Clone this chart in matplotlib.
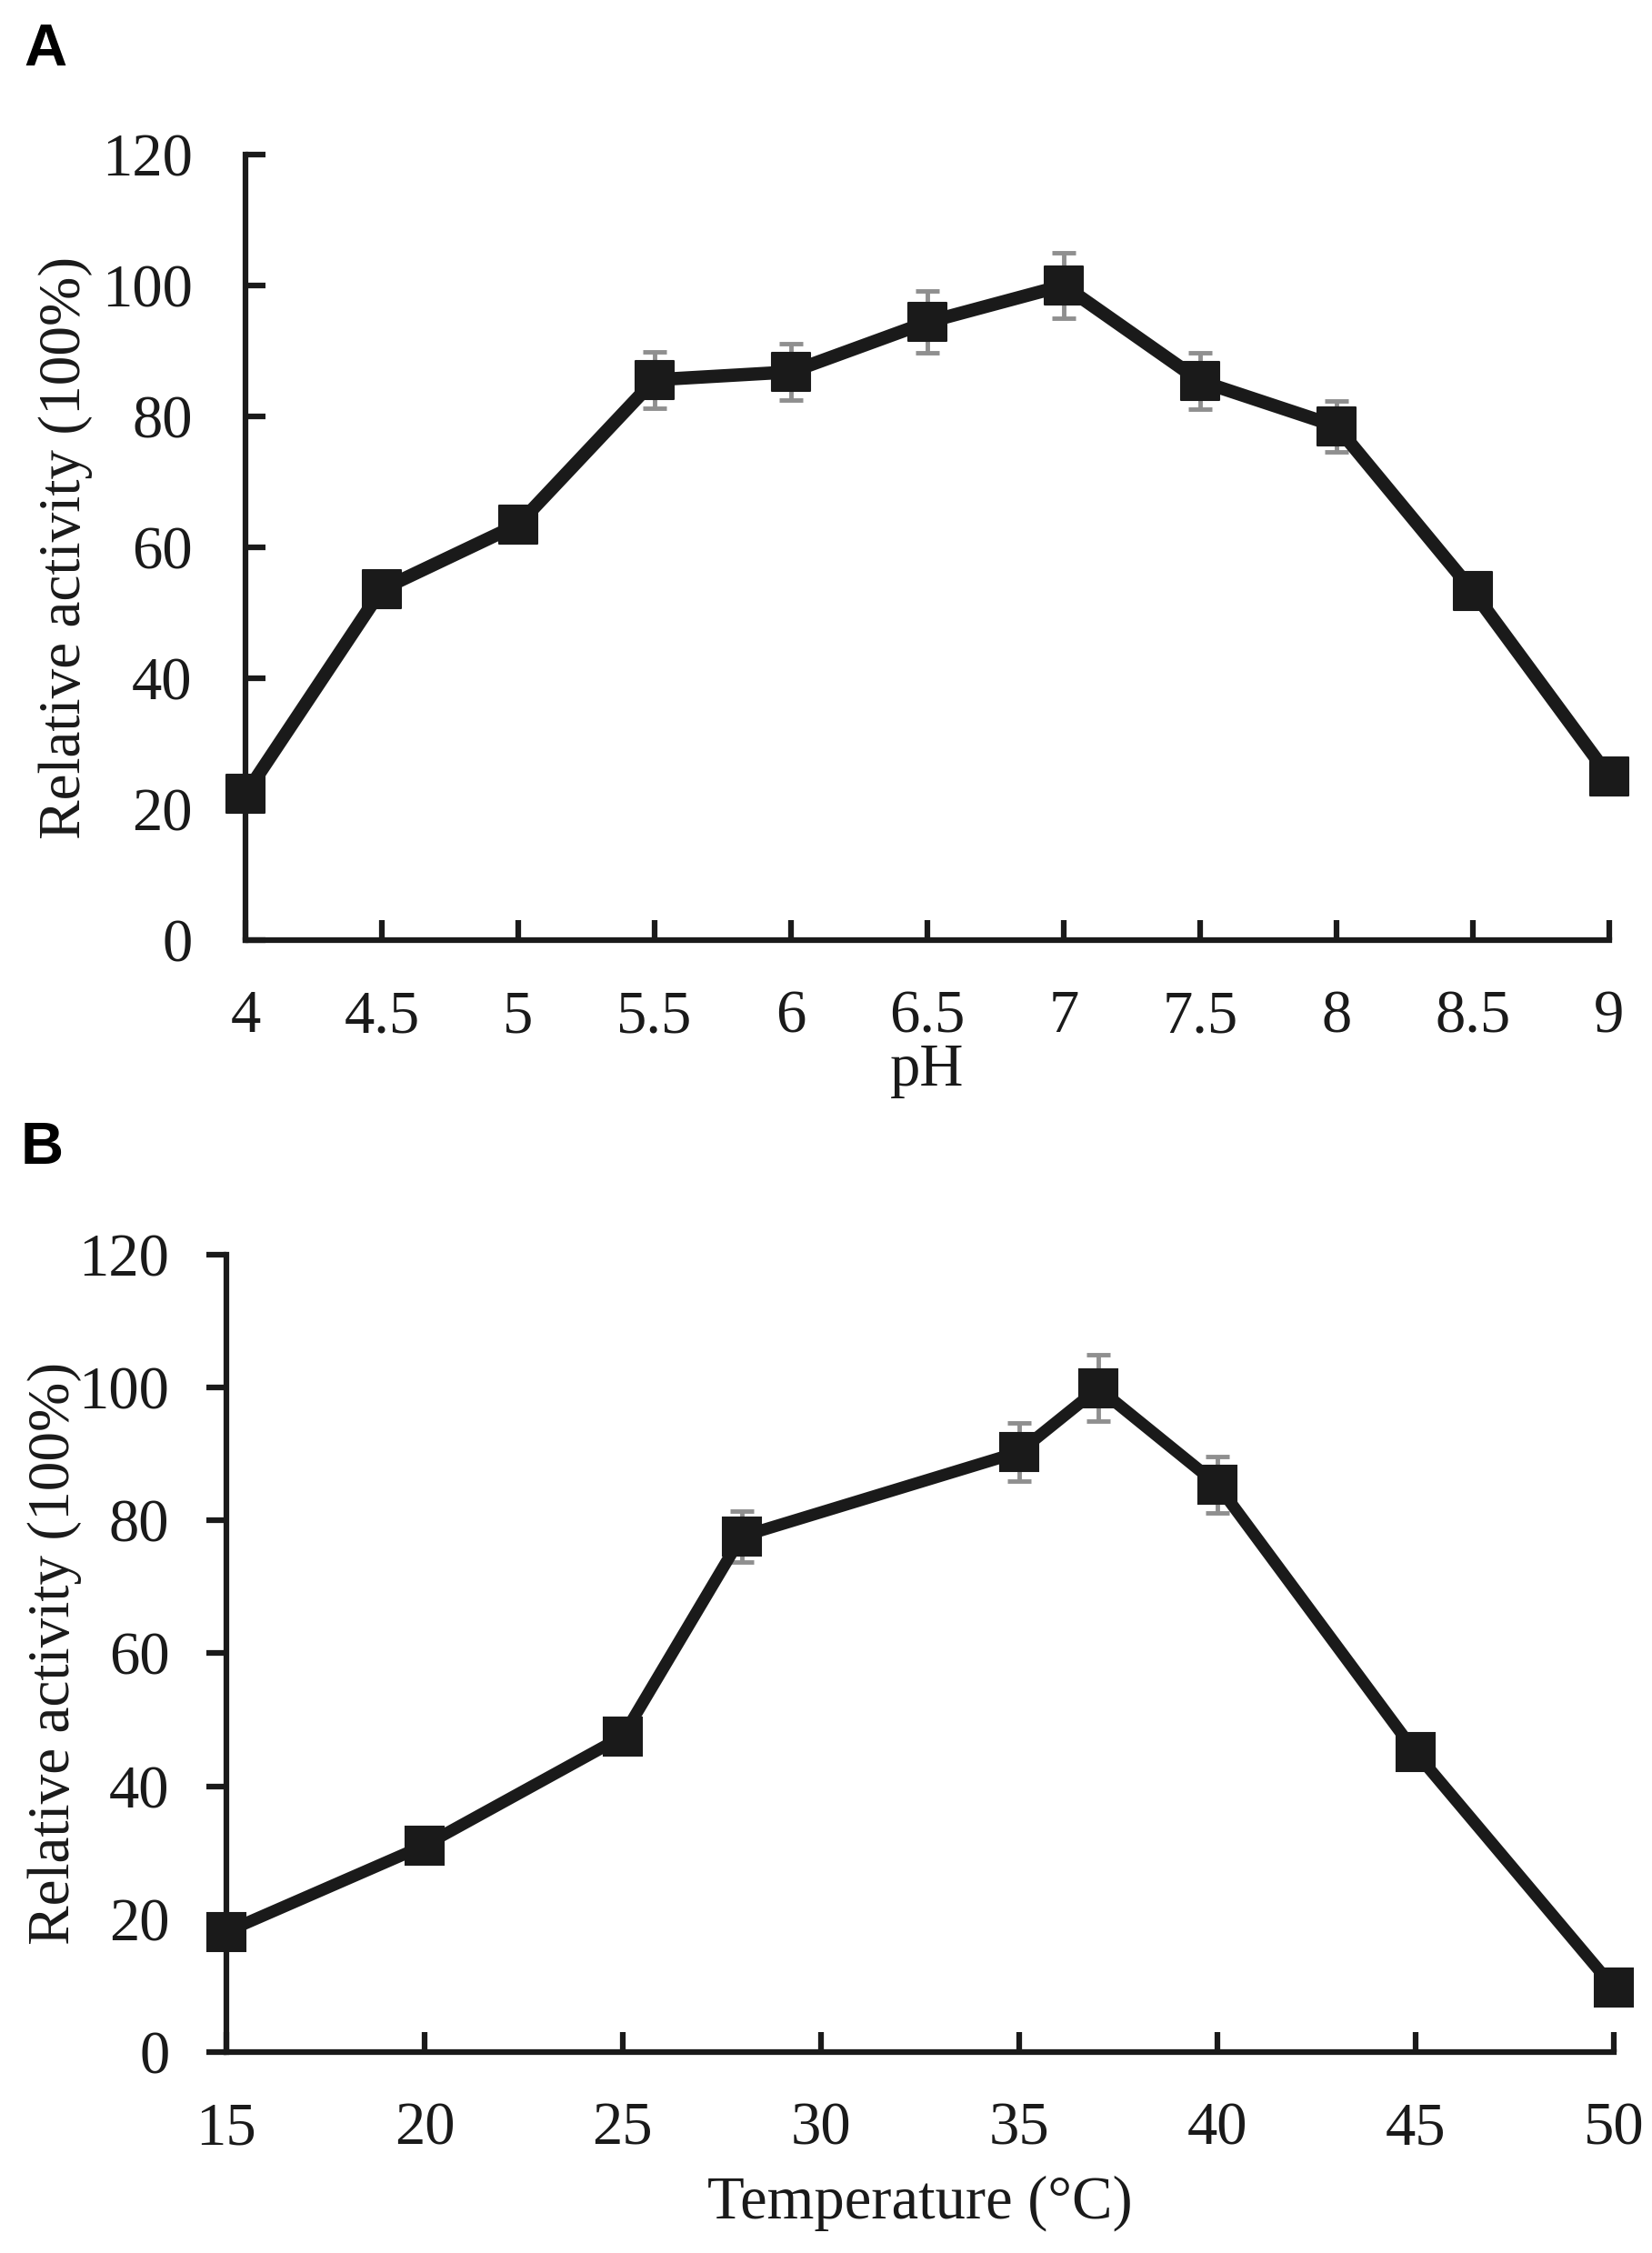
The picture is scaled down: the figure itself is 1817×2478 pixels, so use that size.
import numpy as np
import matplotlib
matplotlib.use('Agg')
import matplotlib.pyplot as plt
from matplotlib.markers import MarkerStyle

# data
ph_values = [4, 4.5, 5, 5.5, 6, 6.5, 7, 7.5, 8, 8.5, 9]
ph_activity = [22.3, 53.6, 63.5, 85.6, 86.8, 94.4, 100.0, 85.4, 78.5, 53.3, 25.0]
ph_err = [1.5, 1.5, 1.8, 4.3, 4.3, 4.7, 5.0, 4.3, 3.9, 1.5, 1.5]

temp_values = [15, 20, 25, 28, 35, 37, 40, 45, 50]
temp_activity = [18.1, 31.1, 47.5, 77.6, 90.3, 99.9, 85.4, 45.1, 9.7]
temp_err = [1.5, 1.5, 1.5, 3.8, 4.4, 5.0, 4.2, 1.5, 1.5]

ph_ticks = [4, 4.5, 5, 5.5, 6, 6.5, 7, 7.5, 8, 8.5, 9]
ph_ticklabels = ['4', '4.5', '5', '5.5', '6', '6.5', '7', '7.5', '8', '8.5', '9']
temp_ticks = [15, 20, 25, 30, 35, 40, 45, 50]
y_ticks = [0, 20, 40, 60, 80, 100, 120]

plt.rcParams['font.family'] = ['Liberation Serif', 'DejaVu Serif']
dark = '#1a1a1a'
grey = '#8f8f8f'

fig = plt.figure(figsize=(18.17, 24.78), dpi=100)
axA = fig.add_axes([0.1486, 0.5827, 0.8255, 0.3487])
axB = fig.add_axes([0.1370, 0.0892, 0.8398, 0.3539])


def draw_panel(ax, x, y, err, lw, joint):
    ax.errorbar(x, y, yerr=err, fmt='none', ecolor=grey, elinewidth=3.5,
                capsize=9.5, capthick=3.5, zorder=2, clip_on=False)
    ax.plot(x, y, color=dark, lw=lw, marker=MarkerStyle('s', joinstyle=joint),
            markersize=30, markerfacecolor=dark, markeredgecolor=dark,
            markeredgewidth=1.5, solid_joinstyle='round', zorder=3, clip_on=False)
    ax.set_ylim(0, 120)
    ax.set_yticks(y_ticks)
    for s in ['top', 'right']:
        ax.spines[s].set_visible(False)
    for s in ['left', 'bottom']:
        ax.spines[s].set_linewidth(4.5)
        ax.spines[s].set_color(dark)
        ax.spines[s].set_capstyle('projecting')


# A: pH
draw_panel(axA, ph_values, ph_activity, ph_err, 10.5, 'round')
axA.set_xlim(4, 9)
axA.set_xticks(ph_ticks)
axA.set_xticklabels(ph_ticklabels)
axA.tick_params(axis='both', direction='in', length=16, width=4.5, color=dark,
                labelsize=48, labelcolor=dark)
axA.tick_params(axis='y', pad=42)
axA.tick_params(axis='x', pad=39)
axA.set_xlabel('pH', fontsize=48, color=dark)
axA.xaxis.set_label_coords(0.5, -0.131)
axA.set_ylabel('Relative activity (100%)', fontsize=47, color=dark)
axA.yaxis.set_label_coords(-0.112, 0.5)

# B: temperature
draw_panel(axB, temp_values, temp_activity, temp_err, 9.5, 'miter')
axB.set_xlim(15, 50)
axB.set_xticks(temp_ticks)
axB.tick_params(axis='both', length=16, width=4.5, color=dark,
                labelsize=48, labelcolor=dark)
axB.tick_params(axis='x', direction='in', pad=39)
axB.tick_params(axis='y', direction='out', pad=29)
axB.set_xlabel('Temperature (°C)', fontsize=48, color=dark)
axB.xaxis.set_label_coords(0.5, -0.154)
axB.set_ylabel('Relative activity (100%)', fontsize=47, color=dark)
axB.yaxis.set_label_coords(-0.104, 0.5)

# panel letters
fig.text(26 / 1817, 1 - 72 / 2478, 'A', fontsize=47, fontweight='bold',
         family=['Liberation Sans', 'DejaVu Sans'], va='baseline', ha='left')
fig.text(23 / 1817, 1 - 1280 / 2478, 'B', fontsize=47, fontweight='bold',
         family=['Liberation Sans', 'DejaVu Sans'], va='baseline', ha='left')

fig.savefig('out.png', dpi=100, facecolor='white')
